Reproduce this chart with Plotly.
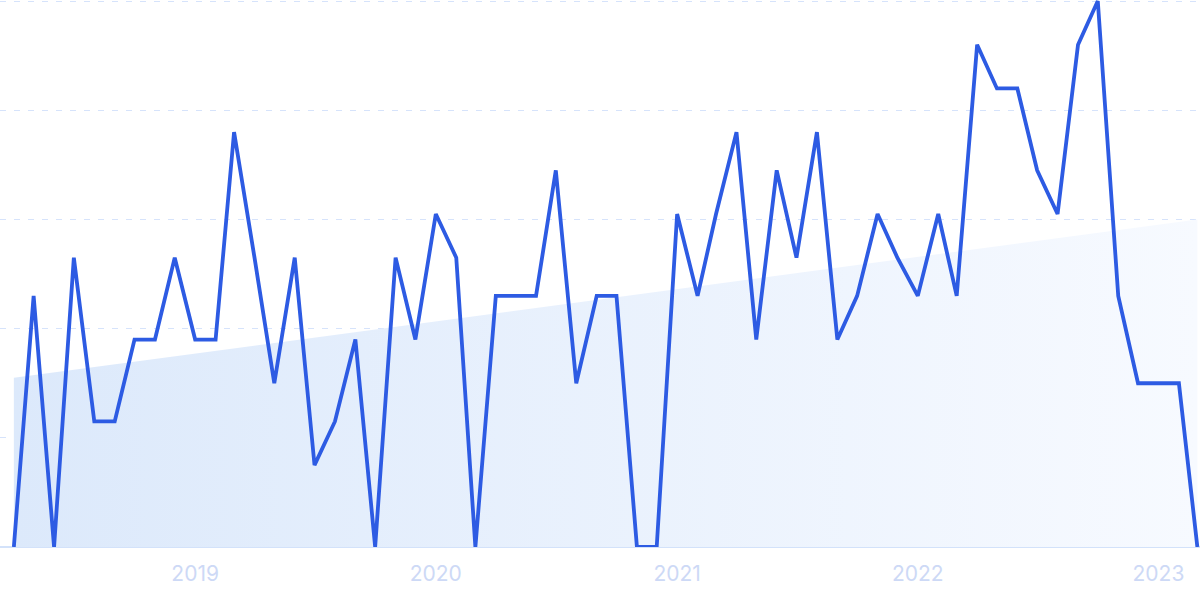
import plotly.graph_objects as go

months = [
    "2018-04-01", "2018-05-01", "2018-06-01", "2018-07-01", "2018-08-01", "2018-09-01",
    "2018-10-01", "2018-11-01", "2018-12-01", "2019-01-01", "2019-02-01", "2019-03-01",
    "2019-04-01", "2019-05-01", "2019-06-01", "2019-07-01", "2019-08-01", "2019-09-01",
    "2019-10-01", "2019-11-01", "2019-12-01", "2020-01-01", "2020-02-01", "2020-03-01",
    "2020-04-01", "2020-05-01", "2020-06-01", "2020-07-01", "2020-08-01", "2020-09-01",
    "2020-10-01", "2020-11-01", "2020-12-01", "2021-01-01", "2021-02-01", "2021-03-01",
    "2021-04-01", "2021-05-01", "2021-06-01", "2021-07-01", "2021-08-01", "2021-09-01",
    "2021-10-01", "2021-11-01", "2021-12-01", "2022-01-01", "2022-02-01", "2022-03-01",
    "2022-04-01", "2022-05-01", "2022-06-01", "2022-07-01", "2022-08-01", "2022-09-01",
    "2022-10-01", "2022-11-01", "2022-12-01", "2023-01-01", "2023-02-01", "2023-03-01",
]
values = [
    0, 46, 0, 53, 23, 23, 38, 38, 53, 38, 38, 76,
    53, 30, 53, 15, 23, 38, 0, 53, 38, 61, 53, 0,
    46, 46, 46, 69, 30, 46, 46, 0, 0, 61, 46, 61,
    76, 38, 69, 53, 76, 38, 46, 61, 53, 46, 61, 46,
    92, 84, 84, 69, 61, 92, 100, 46, 30, 30, 30, 0,
]

trend_x = ["2018-04-01", "2023-03-01"]
trend_y = [31, 60]

tick_vals = ["2019-01-01", "2020-01-01", "2021-01-01", "2022-01-01", "2023-01-01"]
tick_text = ["2019", "2020", "2021", "2022", "2023"]

fig = go.Figure()

fig.add_trace(go.Scatter(
    x=trend_x, y=trend_y, mode="lines",
    line=dict(width=0, color="rgba(0,0,0,0)"),
    fill="tozeroy",
    fillgradient=dict(
        type="horizontal",
        colorscale=[[0, "#dce9fb"], [1, "#f7faff"]],
    ),
    hoverinfo="skip", showlegend=False,
))

fig.add_trace(go.Scatter(
    x=months, y=values, mode="lines",
    line=dict(color="#2d5be3", width=3.8),
    hoverinfo="skip", showlegend=False,
))

fig.update_layout(
    width=1200, height=599,
    margin=dict(l=0, r=0, t=0, b=52, pad=0),
    paper_bgcolor="white", plot_bgcolor="white",
    showlegend=False,
)

fig.update_xaxes(
    type="date",
    range=["2018-03-11", "2023-03-05"],
    tickvals=tick_vals, ticktext=tick_text,
    showgrid=False, zeroline=False, showline=False,
    ticks="outside", ticklen=8, tickcolor="rgba(0,0,0,0)",
    tickfont=dict(family="Inter, Roboto, sans-serif", size=21, color="#cdd9f6"),
)

fig.update_yaxes(
    range=[0, 100.2], tickvals=[20, 40, 60, 80, 100],
    showgrid=True, gridcolor="#d6e3fb", griddash="6px,8px", gridwidth=1,
    zeroline=True, zerolinecolor="#d3e2fa", zerolinewidth=2,
    showticklabels=False, showline=False,
)

fig.write_html(
    "out.html",
    config={"displayModeBar": False},
    post_script="document.body.style.margin='0';document.body.style.overflow='hidden';",
)
